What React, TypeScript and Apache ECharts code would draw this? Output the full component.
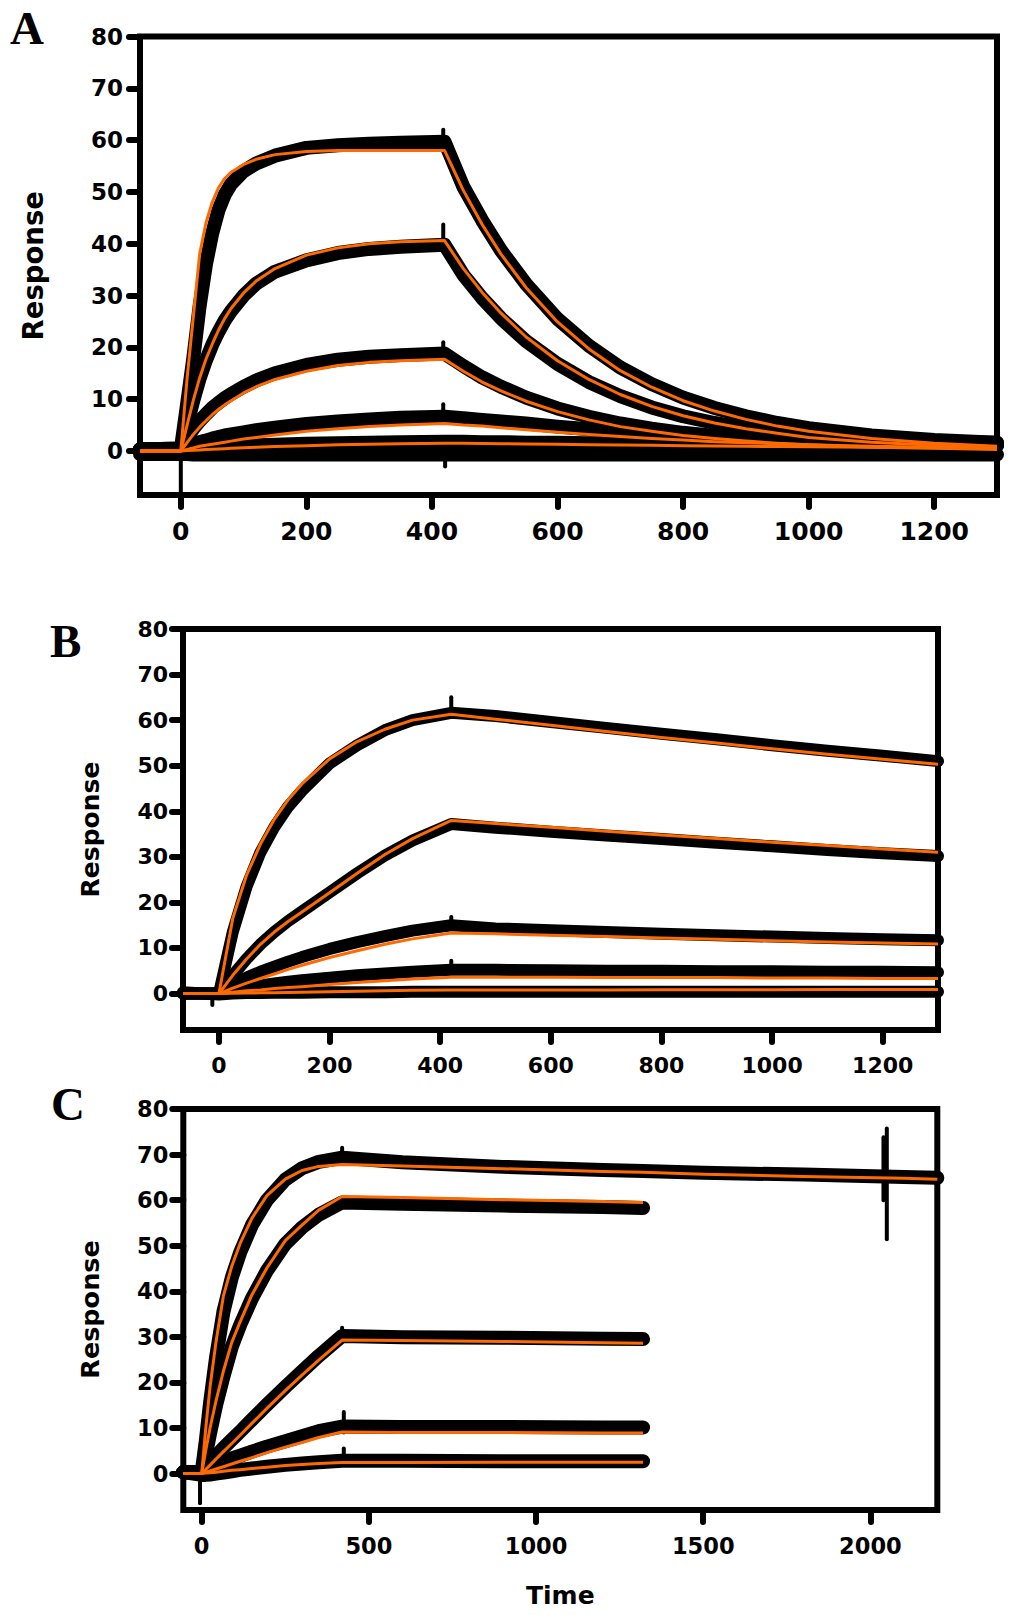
import React, { useEffect, useRef } from 'react';
import * as echarts from 'echarts';

const ORANGE = '#ff6a00';
const FONT = 'DejaVu Sans';

// tick values
const yTicks = [0, 10, 20, 30, 40, 50, 60, 70, 80];
const xTicksAB = [0, 200, 400, 600, 800, 1000, 1200];
const xTicksC = [0, 500, 1000, 1500, 2000];

// ---- panel A (time in s, response) ----
const timeA = [-65, 0, 10, 20, 30, 40, 50, 60, 70, 80, 100, 120, 150, 200, 250, 300, 350, 420, 450, 480, 510, 550, 600, 650, 700, 750, 800, 850, 900, 950, 1000, 1100, 1200, 1300];
const fitA1 = [0, 0, 14, 26, 38, 44, 48, 50.8, 52.6, 53.8, 55.3, 56.3, 57.2, 57.8, 58, 58, 58, 58, 50.3, 43.7, 38, 31.5, 24.9, 19.7, 15.5, 12.3, 9.7, 7.7, 6.1, 4.8, 3.8, 2.4, 1.5, 0.9];
const fitA2 = [0, 0, 5, 9.8, 14.1, 17.7, 20.6, 23.3, 25.6, 27.5, 30.5, 32.8, 35.2, 37.8, 39.2, 40, 40.4, 40.6, 35.2, 30.6, 26.6, 22, 17.4, 13.8, 10.9, 8.6, 6.8, 5.4, 4.3, 3.4, 2.6, 1.7, 1.1, 0.6];
const fitA3 = [0, 0, 1.6, 3.2, 4.6, 5.8, 7, 8, 8.9, 9.7, 11.2, 12.4, 13.8, 15.4, 16.5, 17.1, 17.4, 17.7, 15.4, 13.3, 11.6, 9.6, 7.6, 6, 4.7, 3.8, 3, 2.4, 1.9, 1.5, 1.2, 0.7, 0.5, 0.3];
const fitA4 = [0, 0, 0.3, 0.6, 0.9, 1.1, 1.3, 1.5, 1.7, 1.9, 2.3, 2.6, 3.1, 3.8, 4.3, 4.7, 5, 5.3, 5, 4.8, 4.5, 4.1, 3.6, 3.2, 2.8, 2.4, 2.1, 1.8, 1.6, 1.4, 1.2, 0.9, 0.7, 0.5];
const fitA5 = [0, 0, 0.1, 0.15, 0.2, 0.3, 0.35, 0.4, 0.45, 0.5, 0.6, 0.7, 0.85, 1, 1.2, 1.3, 1.4, 1.5, 1.5, 1.45, 1.4, 1.35, 1.3, 1.2, 1.15, 1.1, 1, 0.95, 0.9, 0.85, 0.8, 0.7, 0.6, 0.5];
const dataA1 = [0.3, 0.3, 9, 18, 28, 36, 42, 46.5, 49.5, 51.5, 54, 55.5, 57, 58.5, 59, 59.3, 59.5, 59.7, 51, 44.5, 38.7, 32.2, 25.5, 20.3, 16.1, 12.9, 10.3, 8.3, 6.7, 5.4, 4.4, 3, 2.1, 1.6];
const dataA2 = [0.3, 0.3, 5, 9.8, 14, 17.5, 20.5, 23, 25.2, 27, 30, 32.3, 34.6, 36.8, 38.2, 39, 39.4, 39.8, 34, 29.5, 25.6, 21.2, 16.8, 13.3, 10.6, 8.4, 6.7, 5.4, 4.3, 3.5, 2.8, 1.9, 1.5, 1.2];
const dataA3 = [0.3, 0.5, 2.6, 4.3, 5.8, 7.1, 8.3, 9.3, 10.2, 11, 12.4, 13.6, 15, 16.6, 17.6, 18.2, 18.5, 18.8, 16.4, 14.2, 12.4, 10.3, 8.2, 6.6, 5.3, 4.3, 3.5, 2.9, 2.4, 2, 1.7, 1.3, 1.1, 1];
const dataA4 = [0.3, 0.5, 0.9, 1.3, 1.7, 2, 2.4, 2.7, 3, 3.2, 3.6, 4, 4.5, 5.2, 5.7, 6.1, 6.4, 6.6, 6.3, 6, 5.7, 5.3, 4.7, 4.2, 3.8, 3.4, 3, 2.7, 2.4, 2.2, 2, 1.8, 1.7, 1.6];
const dataA5 = [0.2, 0.2, 0.3, 0.4, 0.5, 0.6, 0.7, 0.8, 0.8, 0.9, 1, 1.1, 1.2, 1.4, 1.5, 1.6, 1.7, 1.8, 1.8, 1.7, 1.7, 1.6, 1.6, 1.5, 1.5, 1.4, 1.4, 1.3, 1.3, 1.3, 1.2, 1.2, 1.1, 1.1];
const dataA0 = [-0.6, -0.6, -0.6, -0.7, -0.7, -0.7, -0.7, -0.7, -0.7, -0.7, -0.7, -0.7, -0.7, -0.7, -0.7, -0.7, -0.7, -0.7, -0.7, -0.7, -0.7, -0.7, -0.7, -0.7, -0.7, -0.7, -0.7, -0.7, -0.7, -0.7, -0.7, -0.7, -0.7, -0.7];
const spikesA = [
  [[0, 0], [0, -8.5]],
  [[421, 0], [421, -3]],
  [[418, 59], [418, 62]],
  [[418, 40], [418, 43.7]],
  [[418, 18.5], [418, 21]],
  [[418, 6], [418, 9]],
];

// ---- panel B ----
const timeB = [-65, 0, 25, 50, 75, 100, 125, 150, 200, 250, 300, 350, 420, 500, 600, 700, 800, 900, 1000, 1100, 1200, 1300];
const fitB1 = [0, 0, 16.5, 26, 32.8, 38.2, 42.5, 46, 51.5, 55.3, 58, 60, 61.3, 60.2, 58.9, 57.5, 56.2, 55, 53.7, 52.5, 51.4, 50.3];
const fitB2 = [0, 0, 4, 7.6, 10.8, 13.5, 15.8, 17.9, 22.1, 26.4, 30.5, 34, 38, 37.3, 36.5, 35.6, 34.8, 34, 33.2, 32.5, 31.7, 31];
const fitB3 = [0, 0, 1.2, 2.3, 3.3, 4.3, 5.3, 6.2, 7.9, 9.4, 10.8, 12, 13.3, 13.1, 12.8, 12.5, 12.2, 11.9, 11.6, 11.3, 11.1, 10.9];
const fitB4 = [0, 0, 0.3, 0.6, 0.8, 1.1, 1.3, 1.5, 2, 2.4, 2.8, 3.2, 3.6, 3.6, 3.6, 3.5, 3.5, 3.5, 3.4, 3.4, 3.3, 3.3];
const fitB5 = [0, 0, 0.05, 0.1, 0.15, 0.2, 0.25, 0.3, 0.4, 0.5, 0.6, 0.7, 0.8, 0.8, 0.8, 0.8, 0.85, 0.85, 0.85, 0.9, 0.9, 0.9];
const dataB1 = [0, 0, 13.5, 23.5, 31, 36.5, 41, 44.5, 50.5, 54.5, 57.8, 60, 61.6, 60.9, 59.6, 58.3, 57, 55.8, 54.5, 53.3, 52.2, 51];
const dataB2 = [0, 0, 4, 7.6, 10.8, 13.5, 15.9, 18, 22.2, 26.4, 30.3, 33.6, 37.2, 36.4, 35.5, 34.7, 33.9, 33.1, 32.3, 31.5, 30.8, 30.2];
const dataB3 = [0, 0, 2, 3.5, 4.8, 5.9, 7, 8, 9.8, 11.3, 12.6, 13.8, 15, 14.3, 13.9, 13.5, 13.1, 12.8, 12.5, 12.2, 11.9, 11.7];
const dataB4 = [0, 0, 0.9, 1.4, 1.8, 2.2, 2.6, 2.9, 3.5, 4, 4.4, 4.8, 5.2, 5.2, 5.1, 5, 5, 4.9, 4.9, 4.8, 4.8, 4.7];
const dataB5 = [0.3, -0.2, 0, 0.1, 0.1, 0.2, 0.2, 0.2, 0.3, 0.3, 0.3, 0.4, 0.4, 0.4, 0.4, 0.4, 0.4, 0.4, 0.4, 0.4, 0.4, 0.4];
const spikesB = [
  [[-12, 0], [-12, -2.5]],
  [[420, 61], [420, 65]],
  [[420, 14.5], [420, 16.8]],
  [[420, 4.5], [420, 7.2]],
];

// ---- panel C ----
const timeC = [-55, 0, 12, 25, 43, 65, 90, 115, 150, 195, 250, 300, 350, 420, 600, 900, 1200, 1320, 1500, 1800, 2100, 2200];
const timeCShort = [-55, 0, 12, 25, 43, 65, 90, 115, 150, 195, 250, 300, 350, 420, 600, 900, 1200, 1320];
const fitC1 = [0, 0, 9.8, 19, 29, 39, 45.5, 50.5, 56, 61, 64.6, 66.5, 67.4, 67.8, 67.5, 66.9, 66.3, 66.1, 65.7, 65.2, 64.8, 64.6];
const fitC2 = [0, 0, 5, 10, 16, 22.5, 28.8, 33.3, 39.2, 45.1, 51.1, 54.5, 57.8, 60.8, 60.6, 60.1, 59.7, 59.5];
const fitC3 = [0, 0, 0.9, 1.85, 3.2, 4.8, 6.6, 8.4, 11, 14.3, 18.2, 21.6, 24.9, 29.3, 29.2, 29, 28.7, 28.6];
const fitC4 = [0, 0, 0.3, 0.6, 1, 1.5, 2.1, 2.7, 3.5, 4.6, 5.8, 6.8, 7.9, 9.1, 9, 9, 8.9, 8.9];
const fitC5 = [0, 0, 0.1, 0.2, 0.3, 0.5, 0.7, 0.85, 1.1, 1.4, 1.75, 2, 2.2, 2.4, 2.4, 2.5, 2.5, 2.5];
const dataC1 = [0.3, 0.3, 7, 15.5, 25.5, 35.5, 43, 48.5, 54.5, 60, 64.5, 67, 68.4, 69.3, 68.3, 67.3, 66.6, 66.4, 66, 65.6, 65.1, 64.9];
const dataC2 = [0.3, 0.3, 4, 8.8, 15, 21.3, 27.8, 32.6, 38.4, 44.5, 50.4, 54, 56.8, 59.5, 59.2, 58.8, 58.5, 58.3];
const dataC3 = [0.3, 0.3, 1.5, 2.5, 3.9, 5.6, 7.4, 9.2, 11.8, 15.1, 19, 22.4, 25.8, 30.2, 29.9, 29.8, 29.6, 29.5];
const dataC4 = [0.3, 0.3, 1, 1.5, 2, 2.6, 3.3, 3.9, 4.8, 5.9, 7.1, 8.2, 9.3, 10.3, 10.2, 10.2, 10.1, 10.1];
const dataC5 = [0.3, -0.3, -0.3, -0.2, 0, 0.2, 0.5, 0.8, 1.1, 1.5, 1.9, 2.2, 2.5, 2.8, 2.8, 2.7, 2.7, 2.7];
const spikesC = [
  [[-5, 0], [-5, -6.5]],
  [[420, 68], [420, 71.5]],
  [[425, 9], [425, 13.5]],
  [[420, 29], [420, 32]],
  [[425, 2], [425, 5.5]],
  [[2039, 60], [2039, 73.8]],
  [[2049, 51.4], [2049, 75.7]],
];

const pairs = (t: number[], v: number[]) => t.map((x, i) => [x, v[i]]);

const panels = [
  {
    letter: 'A', letterX: 10, letterY: 28,
    grid: { left: 140, top: 36.5, width: 857, height: 458.5 },
    xMin: -65, xMax: 1300, yMin: -8.5, xTicks: xTicksAB,
    xFont: 25, yFont: 23, nameFont: 27.5, nameGap: 93, yMargin: 17, bandWidth: 14,
    bands: [[timeA, dataA0], [timeA, dataA5], [timeA, dataA4], [timeA, dataA3], [timeA, dataA2], [timeA, dataA1]],
    fits: [[timeA, fitA5], [timeA, fitA4], [timeA, fitA3], [timeA, fitA2], [timeA, fitA1]],
    spikes: spikesA,
    xName: '',
  },
  {
    letter: 'B', letterX: 50, letterY: 641,
    grid: { left: 183, top: 629, width: 755, height: 401 },
    xMin: -65, xMax: 1300, yMin: -8, xTicks: xTicksAB,
    xFont: 22, yFont: 22, nameFont: 25, nameGap: 80, yMargin: 15, bandWidth: 12,
    bands: [[timeB, dataB5], [timeB, dataB4], [timeB, dataB3], [timeB, dataB2], [timeB, dataB1]],
    fits: [[timeB, fitB5], [timeB, fitB4], [timeB, fitB3], [timeB, fitB2], [timeB, fitB1]],
    spikes: spikesB,
    xName: '',
  },
  {
    letter: 'C', letterX: 51, letterY: 1104,
    grid: { left: 183.3, top: 1109, width: 754, height: 401 },
    xMin: -55, xMax: 2200, yMin: -8, xTicks: xTicksC,
    xFont: 22.5, yFont: 22.5, nameFont: 25.5, nameGap: 80, yMargin: 15, bandWidth: 14,
    bands: [[timeCShort, dataC5], [timeCShort, dataC4], [timeCShort, dataC3], [timeCShort, dataC2], [timeC, dataC1]],
    fits: [[timeCShort, fitC5], [timeCShort, fitC4], [timeCShort, fitC3], [timeCShort, fitC2], [timeC, fitC1]],
    spikes: spikesC,
    xName: 'Time',
  },
];

const App: React.FC = () => {
  const chartRef = useRef<HTMLDivElement>(null);

  useEffect(() => {
    document.body.style.margin = '0';
    if (!chartRef.current) return;
    const chart = echarts.init(chartRef.current, undefined, { renderer: 'svg' });

    const labelStyle = (size: number) => ({
      color: '#000', fontFamily: FONT, fontWeight: 'bold' as const, fontSize: size,
    });

    const grids = panels.map(p => ({
      ...p.grid,
      show: true,
      borderColor: '#000',
      borderWidth: 6,
      backgroundColor: 'transparent',
      outerBoundsMode: 'none',
      containLabel: false,
    }));

    const xAxes = panels.map((p, i) => ({
      type: 'value',
      gridIndex: i,
      min: p.xMin,
      max: p.xMax,
      axisLine: { show: false, onZero: false },
      axisTick: { show: true, length: 12, customValues: p.xTicks, lineStyle: { color: '#000', width: 6, cap: 'round' } },
      axisLabel: {
        show: true, customValues: p.xTicks, margin: 24,
        formatter: (v: number) => String(v),
        ...labelStyle(p.xFont),
      },
      splitLine: { show: false },
      name: p.xName,
      nameLocation: 'middle',
      nameGap: 73,
      nameMoveOverlap: false,
      nameTextStyle: labelStyle(25),
    }));

    const yAxes = panels.map((p, i) => ({
      type: 'value',
      gridIndex: i,
      min: p.yMin,
      max: 80,
      axisLine: { show: false, onZero: false },
      axisTick: { show: true, length: 11, customValues: yTicks, lineStyle: { color: '#000', width: 6, cap: 'round' } },
      axisLabel: {
        show: true, customValues: yTicks, margin: p.yMargin,
        formatter: (v: number) => String(v),
        ...labelStyle(p.yFont),
      },
      splitLine: { show: false },
      name: 'Response',
      nameLocation: 'middle',
      nameRotate: 90,
      nameGap: p.nameGap,
      nameMoveOverlap: false,
      nameTextStyle: labelStyle(p.nameFont),
    }));

    const series: any[] = [];
    panels.forEach((p, i) => {
      p.bands.forEach(([t, v]) => {
        series.push({
          type: 'line', xAxisIndex: i, yAxisIndex: i, data: pairs(t as number[], v as number[]),
          symbol: 'none', silent: true, z: 2,
          lineStyle: { color: '#000', width: p.bandWidth, cap: 'round', join: 'round' },
        });
      });
      p.spikes.forEach(seg => {
        series.push({
          type: 'line', xAxisIndex: i, yAxisIndex: i, data: seg,
          symbol: 'none', silent: true, z: 3,
          lineStyle: { color: '#000', width: 4, cap: 'round' },
        });
      });
      p.fits.forEach(([t, v]) => {
        series.push({
          type: 'line', xAxisIndex: i, yAxisIndex: i, data: pairs(t as number[], v as number[]),
          symbol: 'none', silent: true, z: 4,
          lineStyle: { color: ORANGE, width: 3, join: 'round' },
        });
      });
    });

    const graphic = panels.map(p => ({
      type: 'text',
      x: p.letterX,
      y: p.letterY,
      style: {
        text: p.letter,
        fontFamily: 'Liberation Serif',
        fontWeight: 'bold',
        fontSize: 47,
        fill: '#000',
        align: 'left',
        textAlign: 'left',
        verticalAlign: 'middle',
        textVerticalAlign: 'middle',
      },
    }));

    chart.setOption({
      animation: false,
      backgroundColor: '#fff',
      grid: grids,
      xAxis: xAxes,
      yAxis: yAxes,
      series,
      graphic,
    });

    return () => chart.dispose();
  }, []);

  return <div ref={chartRef} style={{ width: 1024, height: 1615 }} />;
};

export default App;
